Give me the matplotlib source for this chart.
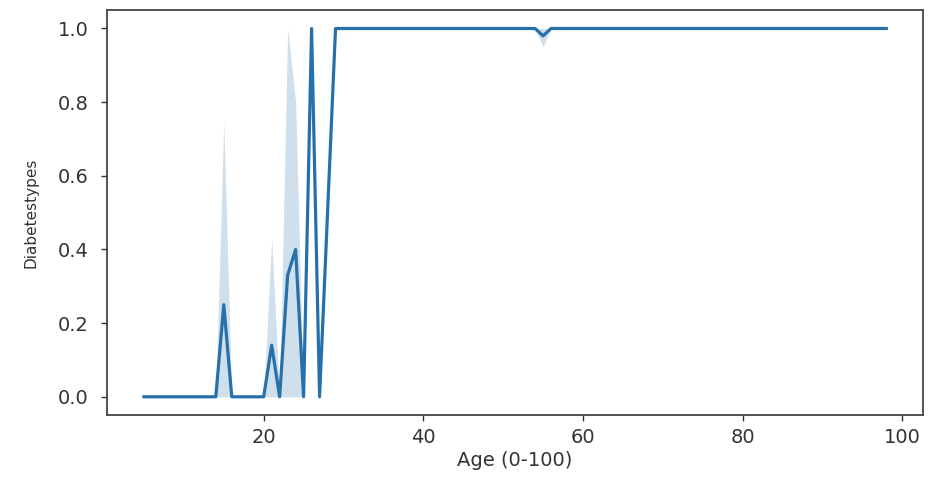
import matplotlib
matplotlib.use("Agg")
import matplotlib.pyplot as plt

ages = [5, 6, 7, 8, 9, 10, 11, 12, 13, 14,
        15, 16, 17, 18, 19, 20, 21, 22, 23, 24, 25, 26, 27,
        29, 30, 31, 32, 33, 34, 35, 36, 37, 38,
        39, 40, 41, 42, 43, 44, 45, 46, 47, 48,
        49, 50, 51, 52, 53, 54,
        55,
        56, 57, 58, 59, 60, 61, 62, 63, 64, 65,
        66, 67, 68, 69, 70, 71, 72, 73, 74, 75,
        76, 77, 78, 79, 80, 81, 82, 83, 84, 85,
        86, 87, 88, 89, 90, 91, 92, 93, 94, 95,
        96, 97, 98]

mean_type = ([0.0, 0.0, 0.0, 0.0, 0.0, 0.0, 0.0, 0.0, 0.0, 0.0]
             + [0.25, 0.0, 0.0, 0.0, 0.0, 0.0, 0.14, 0.0, 0.33, 0.40, 0.0, 1.0, 0.0]
             + [1.0, 1.0, 1.0, 1.0, 1.0, 1.0, 1.0, 1.0, 1.0, 1.0]
             + [1.0, 1.0, 1.0, 1.0, 1.0, 1.0, 1.0, 1.0, 1.0, 1.0]
             + [1.0, 1.0, 1.0, 1.0, 1.0, 1.0]
             + [0.98]
             + [1.0, 1.0, 1.0, 1.0, 1.0, 1.0, 1.0, 1.0, 1.0, 1.0]
             + [1.0, 1.0, 1.0, 1.0, 1.0, 1.0, 1.0, 1.0, 1.0, 1.0]
             + [1.0, 1.0, 1.0, 1.0, 1.0, 1.0, 1.0, 1.0, 1.0, 1.0]
             + [1.0, 1.0, 1.0, 1.0, 1.0, 1.0, 1.0, 1.0, 1.0, 1.0]
             + [1.0, 1.0, 1.0])

ci_low = ([0.0, 0.0, 0.0, 0.0, 0.0, 0.0, 0.0, 0.0, 0.0, 0.0]
          + [0.0, 0.0, 0.0, 0.0, 0.0, 0.0, 0.0, 0.0, 0.0, 0.0, 0.0, 1.0, 0.0]
          + [1.0, 1.0, 1.0, 1.0, 1.0, 1.0, 1.0, 1.0, 1.0, 1.0]
          + [1.0, 1.0, 1.0, 1.0, 1.0, 1.0, 1.0, 1.0, 1.0, 1.0]
          + [1.0, 1.0, 1.0, 1.0, 1.0, 1.0]
          + [0.95]
          + [1.0, 1.0, 1.0, 1.0, 1.0, 1.0, 1.0, 1.0, 1.0, 1.0]
          + [1.0, 1.0, 1.0, 1.0, 1.0, 1.0, 1.0, 1.0, 1.0, 1.0]
          + [1.0, 1.0, 1.0, 1.0, 1.0, 1.0, 1.0, 1.0, 1.0, 1.0]
          + [1.0, 1.0, 1.0, 1.0, 1.0, 1.0, 1.0, 1.0, 1.0, 1.0]
          + [1.0, 1.0, 1.0])

ci_high = ([0.0, 0.0, 0.0, 0.0, 0.0, 0.0, 0.0, 0.0, 0.0, 0.0]
           + [0.75, 0.0, 0.0, 0.0, 0.0, 0.0, 0.43, 0.0, 1.0, 0.80, 0.0, 1.0, 0.0]
           + [1.0, 1.0, 1.0, 1.0, 1.0, 1.0, 1.0, 1.0, 1.0, 1.0]
           + [1.0, 1.0, 1.0, 1.0, 1.0, 1.0, 1.0, 1.0, 1.0, 1.0]
           + [1.0, 1.0, 1.0, 1.0, 1.0, 1.0]
           + [1.0]
           + [1.0, 1.0, 1.0, 1.0, 1.0, 1.0, 1.0, 1.0, 1.0, 1.0]
           + [1.0, 1.0, 1.0, 1.0, 1.0, 1.0, 1.0, 1.0, 1.0, 1.0]
           + [1.0, 1.0, 1.0, 1.0, 1.0, 1.0, 1.0, 1.0, 1.0, 1.0]
           + [1.0, 1.0, 1.0, 1.0, 1.0, 1.0, 1.0, 1.0, 1.0, 1.0]
           + [1.0, 1.0, 1.0])

x_ticks = [20, 40, 60, 80, 100]
y_ticks = [0.0, 0.2, 0.4, 0.6, 0.8, 1.0]

color = "#2670ab"

fig = plt.figure(figsize=(9.29, 4.80), dpi=100)
ax = fig.add_axes([0.115, 0.135, 0.879, 0.844])

ax.fill_between(ages, ci_low, ci_high, color=color, alpha=0.22, linewidth=0)
ax.plot(ages, mean_type, color=color, linewidth=2.3)

ax.set_xlim(0.35, 102.65)
ax.set_ylim(-0.05, 1.05)
ax.set_xticks(x_ticks)
ax.set_yticks(y_ticks)
ax.set_yticklabels([f"{v:.1f}" for v in y_ticks])

ax.tick_params(labelsize=14, colors="#333333", length=4, width=1.0)
ax.tick_params(axis="y", pad=9)
ax.tick_params(axis="x", pad=5)
for s in ax.spines.values():
    s.set_color("#444444")
    s.set_linewidth(1.3)

ax.set_xlabel("Age (0-100)", fontsize=14, color="#333333", labelpad=3)
ax.set_ylabel("Diabetestypes", fontsize=11, color="#333333", labelpad=14)

fig.savefig("out.png", dpi=100)
